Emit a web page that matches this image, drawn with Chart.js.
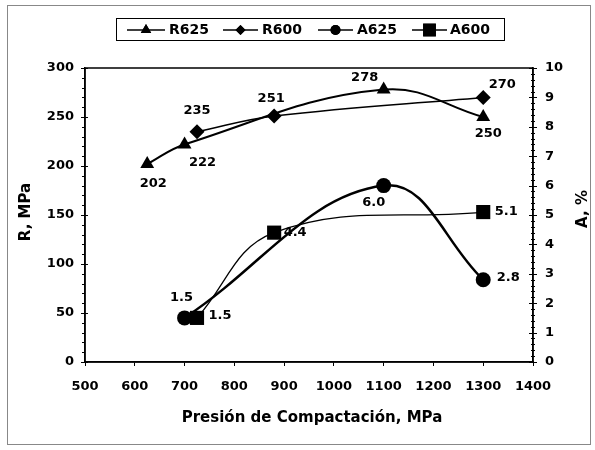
<!DOCTYPE html>
<html lang="es">
<head>
<meta charset="UTF-8">
<title>Resistencia y alargamiento vs presión de compactación</title>
<script src="https://cdn.jsdelivr.net/npm/chart.js@4"></script>
<style>
  body { margin: 0; background: #fff; }
  #wrap { width: 595px; height: 450px; }
</style>
</head>
<body>
<div id="wrap"><canvas id="chart" width="595" height="450"></canvas></div>
<script>
// valores
const presionR625 = [625, 700, 1100, 1300];
const valoresR625 = [202, 222, 278, 250];
const presionR600 = [725, 880, 1300];
const valoresR600 = [235, 251, 270];
const presionA625 = [700, 1100, 1300];
const valoresA625 = [1.5, 6.0, 2.8];
const presionA600 = [725, 880, 1300];
const valoresA600 = [1.5, 4.4, 5.1];

const ejeX = { min: 500, max: 1400, paso: 100 };
const ejeR = { min: 0, max: 300, paso: 50, menor: 10 };
const ejeA = { min: 0, max: 10, paso: 1, menor: 0.2 };

const FONT = '"DejaVu Sans", sans-serif';

function puntos(xs, ys) {
  return xs.map((x, i) => ({ x: x, y: ys[i] }));
}

// offsets of the value labels, px from each marker
const datasets = [
  {
    label: 'R625', data: puntos(presionR625, valoresR625), yAxisID: 'yR',
    pointStyle: 'triangle', pointRadius: 8, borderWidth: 2,
    labelOffsets: [[6, 20], [18, 18], [-19, -12], [5, 17]], decimals: 0
  },
  {
    label: 'R600', data: puntos(presionR600, valoresR600), yAxisID: 'yR',
    pointStyle: 'rectRot', pointRadius: 7.5, borderWidth: 1.5,
    labelOffsets: [[0, -21], [-3, -17], [19, -13]], decimals: 0
  },
  {
    label: 'A625', data: puntos(presionA625, valoresA625), yAxisID: 'yA',
    pointStyle: 'circle', pointRadius: 7.5, borderWidth: 2.5,
    labelOffsets: [[-3, -20], [-10, 17], [25, -2]], decimals: 1
  },
  {
    label: 'A600', data: puntos(presionA600, valoresA600), yAxisID: 'yA',
    pointStyle: 'rect', pointRadius: 10, borderWidth: 1.25,
    labelOffsets: [[23, -2], [21, 0], [23, 0]], decimals: 1
  }
].map(d => Object.assign({
  borderColor: '#000', backgroundColor: '#000',
  pointBackgroundColor: '#000', pointBorderColor: '#000', pointBorderWidth: 0,
  tension: 0.4, fill: false
}, d));

const decor = {
  id: 'decor',
  beforeDraw(chart) {
    const ctx = chart.ctx;
    ctx.save();
    ctx.fillStyle = '#fff';
    ctx.fillRect(0, 0, chart.width, chart.height);
    ctx.restore();
  },
  afterDraw(chart) {
    const { ctx, chartArea: a, scales } = chart;
    ctx.save();

    // outer frame
    ctx.strokeStyle = '#888';
    ctx.lineWidth = 1;
    ctx.strokeRect(7.5, 5.5, 583, 439);

    // plot box
    ctx.strokeStyle = '#000';
    ctx.lineWidth = 1.5;
    ctx.strokeRect(a.left, a.top, a.right - a.left, a.bottom - a.top);

    // minor ticks
    ctx.lineWidth = 1;
    ctx.beginPath();
    for (let v = ejeR.min; v <= ejeR.max + 1e-6; v += ejeR.menor) {
      const y = Math.round(scales.yR.getPixelForValue(v)) + 0.5;
      const major = Math.abs(v % ejeR.paso) < 1e-6;
      ctx.moveTo(a.left - (major ? 4 : 3), y);
      ctx.lineTo(a.left + (major ? 3 : 0), y);
    }
    for (let v = ejeA.min; v <= ejeA.max + 1e-6; v += ejeA.menor) {
      const y = Math.round(scales.yA.getPixelForValue(v)) + 0.5;
      const major = Math.abs(v - Math.round(v)) < 1e-6;
      ctx.moveTo(a.right - (major ? 4 : 2), y);
      ctx.lineTo(a.right + (major ? 4 : 2), y);
    }
    ctx.stroke();

    // axis titles
    ctx.fillStyle = '#000';
    ctx.font = 'bold 15px ' + FONT;
    ctx.textAlign = 'center';
    ctx.textBaseline = 'middle';
    ctx.fillText('Presión de Compactación, MPa', 312, 418);
    ctx.save();
    ctx.translate(26, 212);
    ctx.rotate(-Math.PI / 2);
    ctx.fillText('R, MPa', 0, 0);
    ctx.restore();
    ctx.save();
    ctx.translate(583, 209);
    ctx.rotate(-Math.PI / 2);
    ctx.fillText('A, %', 0, 0);
    ctx.restore();

    // value labels
    ctx.font = 'bold 13px ' + FONT;
    chart.data.datasets.forEach((ds, i) => {
      const meta = chart.getDatasetMeta(i);
      meta.data.forEach((pt, j) => {
        const off = ds.labelOffsets[j];
        ctx.fillText(ds.data[j].y.toFixed(ds.decimals), pt.x + off[0], pt.y + off[1]);
      });
    });

    // legend
    ctx.strokeStyle = '#000';
    ctx.lineWidth = 1;
    ctx.strokeRect(116.5, 18.5, 388, 22);
    const items = [
      { x0: 127, x1: 165, tx: 169, r: 6 },
      { x0: 223, x1: 258, tx: 262, r: 5 },
      { x0: 318, x1: 353, tx: 357, r: 5 },
      { x0: 412, x1: 447, tx: 450, r: 9 }
    ];
    ctx.textAlign = 'left';
    ctx.font = 'bold 14px ' + FONT;
    items.forEach((it, i) => {
      const ds = chart.data.datasets[i];
      ctx.lineWidth = 1.5;
      ctx.beginPath();
      ctx.moveTo(it.x0, 30);
      ctx.lineTo(it.x1, 30);
      ctx.stroke();
      ctx.fillStyle = '#000';
      Chart.helpers.drawPoint(ctx, { pointStyle: ds.pointStyle, radius: it.r, rotation: 0, borderWidth: 0 }, (it.x0 + it.x1) / 2, 30);
      ctx.fill();
      ctx.fillText(ds.label, it.tx, 30);
    });

    ctx.restore();
  }
};

const tickFont = { family: FONT, size: 13, weight: 'bold' };
const plain = v => String(v);

new Chart(document.getElementById('chart'), {
  type: 'line',
  data: { datasets: datasets },
  options: {
    responsive: false,
    animation: false,
    layout: { padding: { top: 68, left: 0, right: 0, bottom: 0 } },
    plugins: { legend: { display: false }, tooltip: { enabled: false } },
    scales: {
      x: {
        type: 'linear', min: ejeX.min, max: ejeX.max,
        ticks: { stepSize: ejeX.paso, color: '#000', font: tickFont, padding: 13, maxRotation: 0, callback: plain },
        grid: { drawOnChartArea: false, tickLength: 4, color: '#000' },
        border: { color: '#000', width: 1.5 },
        afterFit(s) { s.height = 88; }
      },
      yR: {
        position: 'left', min: ejeR.min, max: ejeR.max,
        ticks: { stepSize: ejeR.paso, color: '#000', font: tickFont, padding: 7, callback: plain },
        grid: { drawOnChartArea: false, drawTicks: true, tickLength: 4, color: 'rgba(0,0,0,0)' },
        border: { color: '#000', width: 1.5 },
        afterFit(s) { s.width = 85; }
      },
      yA: {
        position: 'right', min: ejeA.min, max: ejeA.max,
        ticks: { stepSize: ejeA.paso, color: '#000', font: tickFont, padding: 8, callback: plain },
        grid: { drawOnChartArea: false, drawTicks: true, tickLength: 4, color: 'rgba(0,0,0,0)' },
        border: { color: '#000', width: 1.5 },
        afterFit(s) { s.width = 62; }
      }
    }
  },
  plugins: [decor]
});
</script>
</body>
</html>
